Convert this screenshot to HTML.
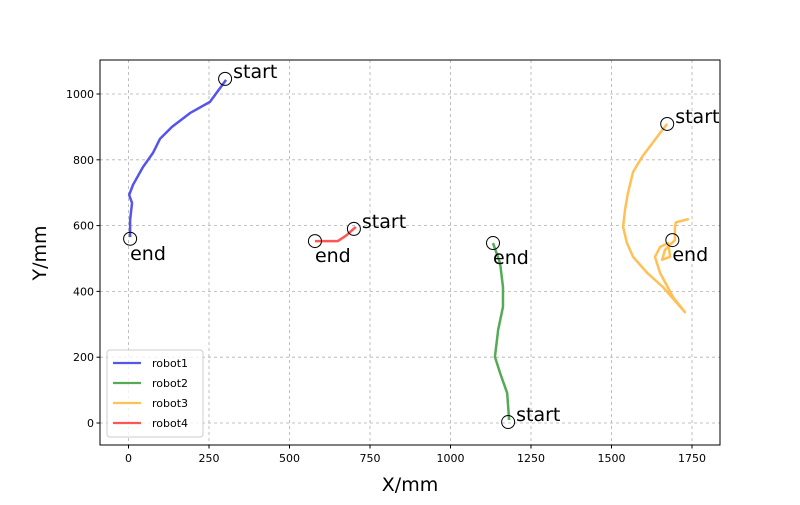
<!DOCTYPE html>
<html><head><meta charset="utf-8"><style>
body{margin:0;background:#fff;}
svg{font-family:"DejaVu Sans","Liberation Sans",sans-serif;}
</style></head><body>
<svg id="chart" width="800" height="500"></svg>
<script>
const xTicks=[0,250,500,750,1000,1250,1500,1750];
const yTicks=[0,200,400,600,800,1000];
const seriesNames=['robot1','robot2','robot3','robot4'];
const seriesColors=['#5555ee','#55aa55','#ffc055','#ff5555'];
const robot1X=[303,253,191,135,98,76,45,14,2,11,5,5];
const robot1Y=[1043,976,942,900,864,821,778,724,693,669,617,565];
const robot2X=[1182,1176,1154,1138,1148,1163,1163,1154,1132];
const robot2Y=[9,91,152,201,283,353,413,486,547];
const robot3X=[1673,1651,1595,1567,1551,1542,1536,1548,1567,1611,1660,1728,1691,1651,1635,1651,1676,1682,1657,1666,1697,1697,1700,1740];
const robot3Y=[909,882,809,763,699,648,596,547,505,456,413,337,383,456,505,535,547,505,496,526,556,596,610,620];
const robot4X=[706,675,650,610,579];
const robot4Y=[596,569,553,553,553];
const startPts=[[300,1046],[1179,3],[1673,909],[700,590]];
const endPts=[[5,560],[1132,547],[1689,556],[579,553]];
const allX=[robot1X,robot2X,robot3X,robot4X], allY=[robot1Y,robot2Y,robot3Y,robot4Y];
const L=100,R=720,T=60,B=445;
const sx=v=>128.5+v*80.5/250, sy=v=>423-v*0.329;
const svg=document.getElementById('chart');const NS='http://www.w3.org/2000/svg';
function mk(t,a,p){const e=document.createElementNS(NS,t);for(const k in a)e.setAttribute(k,a[k]);(p||svg).appendChild(e);return e;}
xTicks.forEach(v=>{const x=sx(v);
const g=mk('line',{x1:x,x2:x,y1:T,y2:B,stroke:'#b0b0b0','stroke-dasharray':'3,3','stroke-width':0.8});

mk('line',{x1:x,x2:x,y1:B,y2:B+3.5,stroke:'#000'});
const t=mk('text',{x:x,y:B+17,'font-size':11,'text-anchor':'middle'});t.textContent=v;
});
yTicks.forEach(v=>{const y=sy(v);
const g=mk('line',{x1:L,x2:R,y1:y,y2:y,stroke:'#b0b0b0','stroke-dasharray':'3,3','stroke-width':0.8});

mk('line',{x1:L-3.5,x2:L,y1:y,y2:y,stroke:'#000'});
const t=mk('text',{x:L-6,y:y+4,'font-size':11,'text-anchor':'end'});t.textContent=v;
});
allX.forEach((xs,i)=>{const p=mk('polyline',{points:xs.map((v,j)=>sx(v)+','+sy(allY[i][j])).join(' '),fill:'none',stroke:seriesColors[i],'stroke-width':2.5,'stroke-linejoin':'round'});
});
startPts.forEach((p,i)=>{const c=mk('circle',{cx:sx(p[0]),cy:sy(p[1]),r:6.5,fill:'none',stroke:'#000'});

const t=mk('text',{x:sx(p[0])+8,y:sy(p[1])-1,'font-size':19});t.textContent='start';
});
endPts.forEach((p,i)=>{const c=mk('circle',{cx:sx(p[0]),cy:sy(p[1]),r:6.5,fill:'none',stroke:'#000'});

const t=mk('text',{x:sx(p[0]),y:sy(p[1])+21,'font-size':19});t.textContent='end';
});
const fr=mk('rect',{x:L,y:T,width:R-L,height:B-T,fill:'none',stroke:'#000','stroke-width':1});

const xl=mk('text',{x:410,y:491,'font-size':19,'text-anchor':'middle'});xl.textContent='X/mm';

const yl=mk('text',{x:46,y:253,'font-size':19,'text-anchor':'middle',transform:'rotate(-90 46 253)'});yl.textContent='Y/mm';

const lg=mk('g',{});
mk('rect',{x:107,y:350,width:96,height:87,rx:3,fill:'#fff','fill-opacity':0.8,stroke:'#ccc'},lg);
seriesNames.forEach((n,i)=>{const y=363+i*20;
const e=mk('g',{},lg);
mk('line',{x1:113,x2:141,y1:y,y2:y,stroke:seriesColors[i],'stroke-width':2.2},e);
const t=mk('text',{x:152,y:y+4,'font-size':11},e);t.textContent=n;});
</script>
</body></html>
